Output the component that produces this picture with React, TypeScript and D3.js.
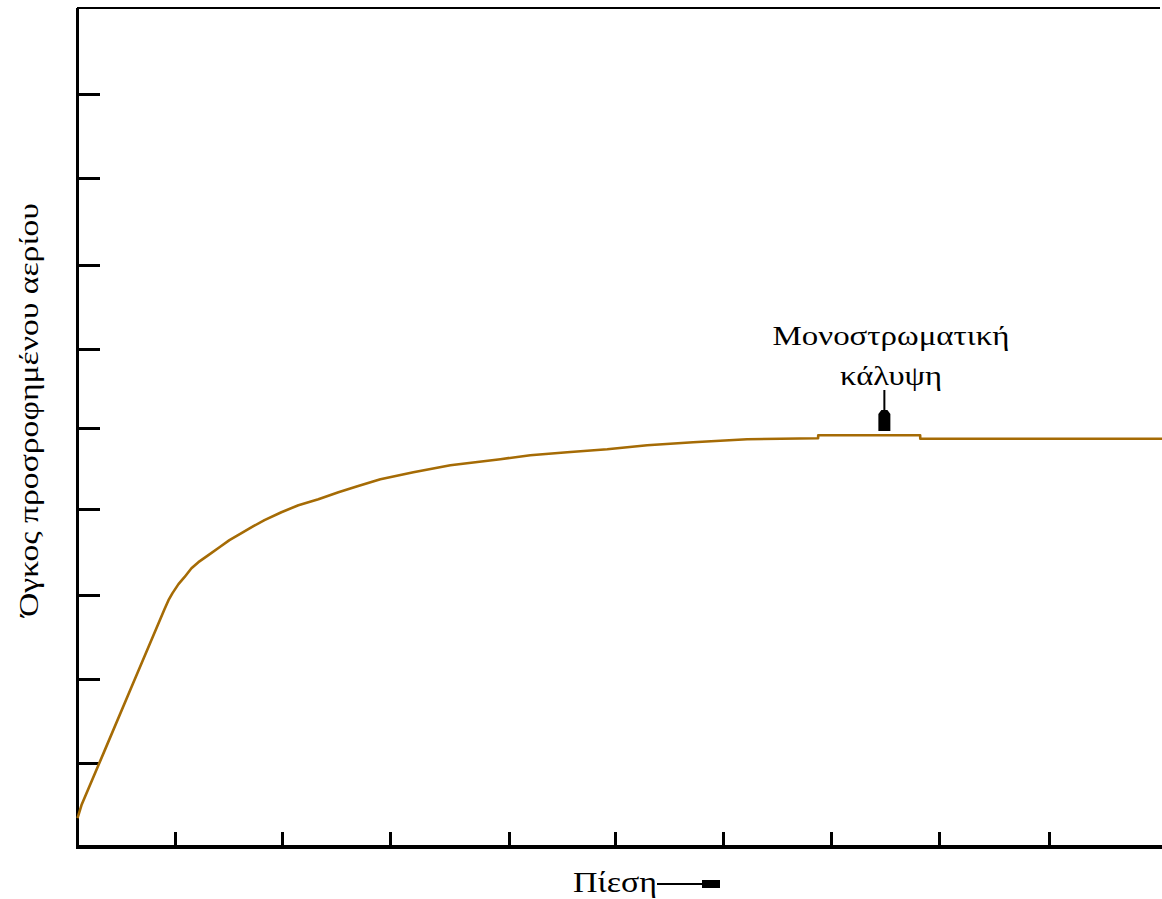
import * as d3 from "d3";
import { useRef, useEffect } from "react";

// Pressure (arbitrary units) and adsorbed volume (arbitrary units)
const pressure = [0, 0.037, 0.249, 0.498, 0.802, 0.839, 0.876, 0.931, 0.986, 1.051, 1.115, 1.207,
    1.309, 1.401, 1.512, 1.622, 1.724, 1.88, 2.037, 2.221, 2.406, 2.581, 2.793, 3.097, 3.438,
    3.899, 4.175, 4.516, 4.885, 5.253, 5.677, 6.175, 6.829, 6.83, 7.77, 7.771, 10];
const volume = [0.345, 0.5, 1.145, 1.905, 2.833, 2.94, 3.024, 3.131, 3.214, 3.321, 3.393, 3.476,
    3.571, 3.655, 3.738, 3.821, 3.893, 3.988, 4.071, 4.143, 4.226, 4.298, 4.381, 4.464, 4.548,
    4.619, 4.667, 4.702, 4.738, 4.786, 4.821, 4.857, 4.869, 4.905, 4.905, 4.863, 4.863];

const xTicks = [0.9, 1.89, 2.885, 3.98, 4.96, 5.96, 6.95, 7.95, 8.96];
const yTicks = [1.0, 2.0, 2.99, 4.02, 4.98, 5.93, 6.93, 7.96, 8.96];

const yTitle = "Όγκος προσροφημένου αερίου";
const xTitle = "Πίεση";
const noteLines = ["Μονοστρωματική", "κάλυψη"];
const notePressure = 7.44;

export default function App() {
    const ref = useRef<SVGSVGElement>(null);

    const width = 1162;
    const height = 899;
    const marginLeft = 77.5;
    const marginTop = 7.5;
    const marginBottom = 52;
    const lineColor = "#a56b05";

    useEffect(() => {
        const svg = d3.select(ref.current);
        svg.selectAll("*").remove();

        const x = d3.scaleLinear().domain([0, 10]).range([marginLeft, width]);
        const y = d3.scaleLinear().domain([0, 10]).range([height - marginBottom, marginTop]);

        const data = pressure.map((p, i) => ({ p, v: volume[i] }));

        // frame: left axis, bottom axis, top border
        const axes = svg.append("g")
            .attr("stroke", "#000")
            .attr("shape-rendering", "crispEdges");

        axes.append("line")
            .attr("x1", x(0)).attr("x2", x(0))
            .attr("y1", y(10)).attr("y2", y(0) + 2)
            .attr("stroke-width", 3);
        axes.append("line")
            .attr("x1", x(0) - 1).attr("x2", width)
            .attr("y1", y(0)).attr("y2", y(0))
            .attr("stroke-width", 4);
        axes.append("line")
            .attr("x1", x(0) - 1).attr("x2", width - 2)
            .attr("y1", y(10)).attr("y2", y(10))
            .attr("stroke-width", 2);

        // inward ticks
        axes.selectAll(".yt")
            .data(yTicks)
            .join("line")
            .attr("class", "yt")
            .attr("x1", x(0)).attr("x2", x(0) + 22)
            .attr("y1", d => y(d)).attr("y2", d => y(d))
            .attr("stroke-width", 3);
        axes.selectAll(".xt")
            .data(xTicks)
            .join("line")
            .attr("class", "xt")
            .attr("x1", d => x(d)).attr("x2", d => x(d))
            .attr("y1", y(0)).attr("y2", y(0) - 15)
            .attr("stroke-width", 3);

        // isotherm
        const line = d3.line<{ p: number; v: number }>()
            .x(d => x(d.p))
            .y(d => y(d.v));
        svg.append("path")
            .datum(data)
            .attr("fill", "none")
            .attr("stroke", lineColor)
            .attr("stroke-width", 2.6)
            .attr("stroke-linejoin", "round")
            .attr("d", line);

        const font = "'Liberation Serif', 'DejaVu Serif', serif";

        // y title
        svg.append("text")
            .attr("transform", `translate(38,410) rotate(-90)`)
            .attr("text-anchor", "middle")
            .attr("font-family", font)
            .attr("font-size", 27)
            .attr("textLength", 414)
            .attr("lengthAdjust", "spacingAndGlyphs")
            .text(yTitle);

        // x title with arrow
        svg.append("text")
            .attr("x", 573)
            .attr("y", 892)
            .attr("font-family", font)
            .attr("font-size", 30)
            .attr("textLength", 84)
            .attr("lengthAdjust", "spacingAndGlyphs")
            .text(xTitle);
        svg.append("line")
            .attr("x1", 657).attr("x2", 704)
            .attr("y1", 884).attr("y2", 884)
            .attr("stroke", "#000").attr("stroke-width", 2);
        svg.append("rect")
            .attr("x", 702).attr("y", 880)
            .attr("width", 18).attr("height", 8)
            .attr("fill", "#000");

        // monolayer annotation
        const nx = x(notePressure);
        svg.append("text")
            .attr("x", 891)
            .attr("y", 345)
            .attr("text-anchor", "middle")
            .attr("font-family", font)
            .attr("font-size", 27)
            .attr("textLength", 237)
            .attr("lengthAdjust", "spacingAndGlyphs")
            .text(noteLines[0]);
        svg.append("text")
            .attr("x", 891)
            .attr("y", 385)
            .attr("text-anchor", "middle")
            .attr("font-family", font)
            .attr("font-size", 27)
            .attr("textLength", 102)
            .attr("lengthAdjust", "spacingAndGlyphs")
            .text(noteLines[1]);
        svg.append("line")
            .attr("x1", nx).attr("x2", nx)
            .attr("y1", 390).attr("y2", 412)
            .attr("stroke", "#000").attr("stroke-width", 2);
        svg.append("path")
            .attr("d", `M${nx - 3},410 L${nx + 3},410 L${nx + 6},414 L${nx + 6},431 L${nx - 6},431 L${nx - 6},414 Z`)
            .attr("fill", "#000");
    }, []);

    return (
        <svg ref={ref} width={width} height={height}
            style={{ position: "absolute", left: 0, top: 0, background: "#fff" }} />
    );
}
